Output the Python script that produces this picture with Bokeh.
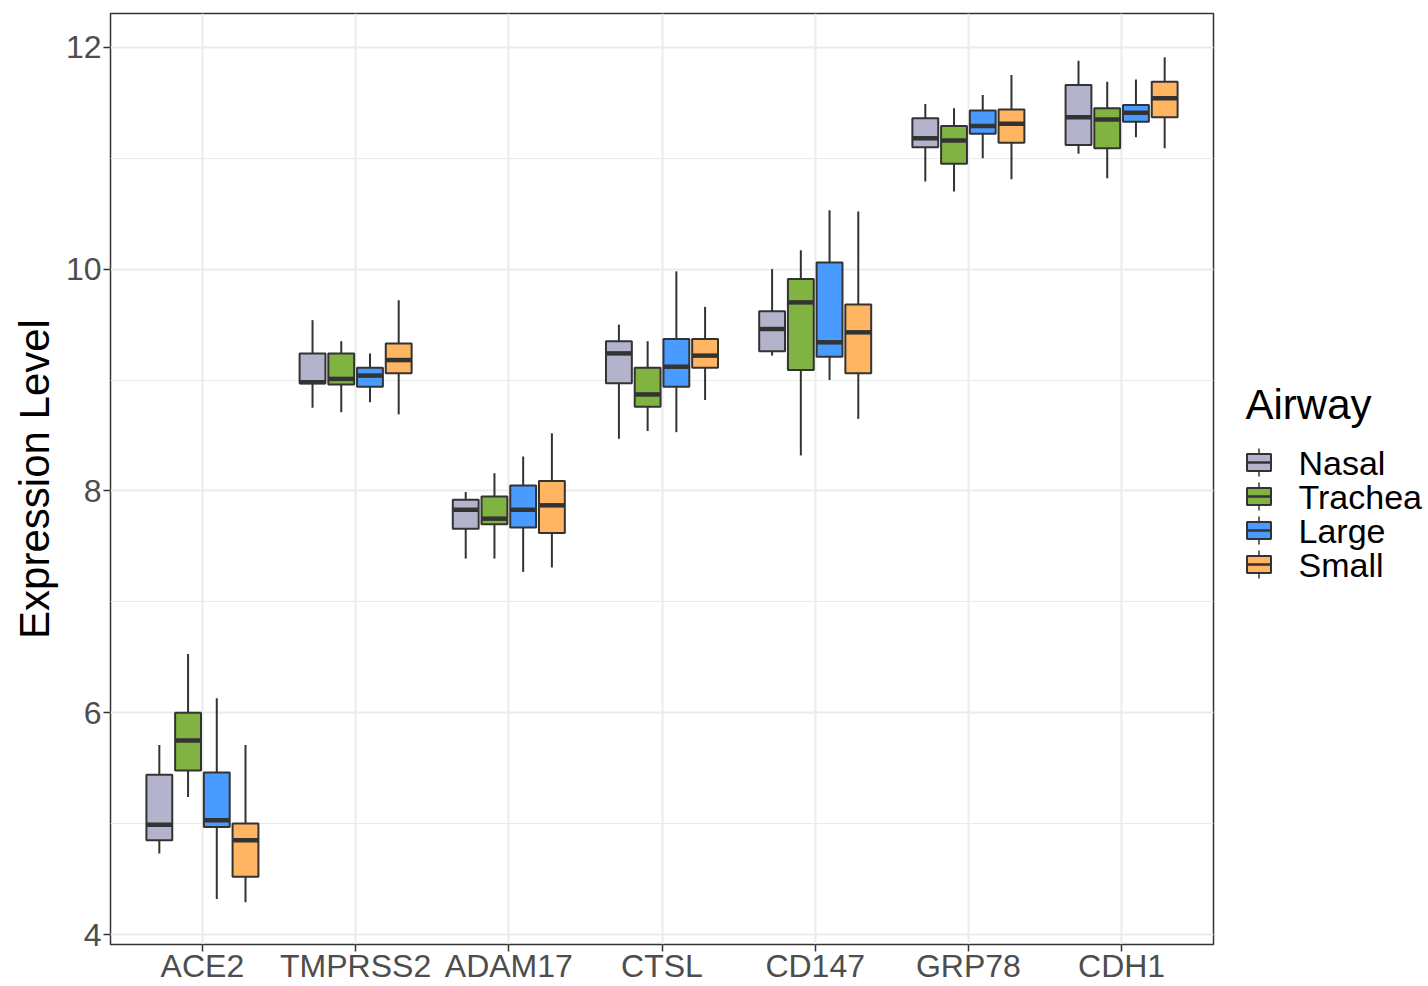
from bokeh.plotting import figure
from bokeh.models import FactorRange, Range1d, SingleIntervalTicker, ColumnDataSource
from bokeh.transform import dodge
from bokeh.layouts import row
from bokeh.core.properties import value
from bokeh.embed import file_html
from bokeh.resources import INLINE

genes = ["ACE2", "TMPRSS2", "ADAM17", "CTSL", "CD147", "GRP78", "CDH1"]
groups = ["Nasal", "Trachea", "Large", "Small"]
colors = ["#B3B3CC", "#80B341", "#4A9BFF", "#FFB562"]

nasal_upper = [5.71, 9.54, 7.99, 9.50, 10.00, 11.49, 11.88]
nasal_q3 = [5.44, 9.24, 7.92, 9.35, 9.62, 11.36, 11.66]
nasal_med = [4.99, 8.98, 7.83, 9.24, 9.46, 11.18, 11.37]
nasal_q1 = [4.85, 8.97, 7.66, 8.97, 9.26, 11.10, 11.12]
nasal_lower = [4.73, 8.75, 7.39, 8.47, 9.22, 10.79, 11.04]

trachea_upper = [6.53, 9.35, 8.16, 9.35, 10.17, 11.45, 11.69]
trachea_q3 = [6.00, 9.24, 7.95, 9.11, 9.91, 11.29, 11.45]
trachea_med = [5.75, 9.01, 7.75, 8.87, 9.70, 11.16, 11.35]
trachea_q1 = [5.48, 8.96, 7.70, 8.76, 9.09, 10.95, 11.09]
trachea_lower = [5.24, 8.71, 7.39, 8.54, 8.32, 10.70, 10.82]

large_upper = [6.13, 9.24, 8.31, 9.98, 10.53, 11.57, 11.71]
large_q3 = [5.46, 9.11, 8.05, 9.37, 10.06, 11.43, 11.48]
large_med = [5.03, 9.04, 7.83, 9.12, 9.34, 11.29, 11.41]
large_q1 = [4.97, 8.94, 7.67, 8.94, 9.21, 11.22, 11.33]
large_lower = [4.32, 8.80, 7.27, 8.53, 9.00, 11.00, 11.19]

small_upper = [5.71, 9.72, 8.52, 9.66, 10.52, 11.75, 11.91]
small_q3 = [5.00, 9.33, 8.09, 9.37, 9.68, 11.44, 11.69]
small_med = [4.85, 9.18, 7.87, 9.22, 9.43, 11.31, 11.54]
small_q1 = [4.52, 9.06, 7.62, 9.11, 9.06, 11.14, 11.37]
small_lower = [4.29, 8.69, 7.31, 8.82, 8.65, 10.81, 11.09]

stats = {
    "Nasal": (nasal_lower, nasal_q1, nasal_med, nasal_q3, nasal_upper),
    "Trachea": (trachea_lower, trachea_q1, trachea_med, trachea_q3, trachea_upper),
    "Large": (large_lower, large_q1, large_med, large_q3, large_upper),
    "Small": (small_lower, small_q1, small_med, small_q3, small_upper),
}

FONT = "Liberation Sans"
EDGE = "#333333"
dodge_w = 0.75 / 4
box_w = dodge_w * 0.9
H = 986
TOP = 13

p = figure(
    x_range=FactorRange(*genes, range_padding=0.1, range_padding_units="absolute"),
    y_range=Range1d(3.91, 12.305),
    width=1218, height=H,
    output_backend="svg", toolbar_location=None,
    min_border_left=110, min_border_right=5, min_border_top=TOP, min_border_bottom=0,
    background_fill_color="white", border_fill_color="white",
)

for i, g in enumerate(groups):
    lo, q1, md, q3, up = stats[g]
    src = ColumnDataSource(dict(gene=genes, lower=lo, q1=q1, med=md, q3=q3, upper=up))
    off = (i - 1.5) * dodge_w
    xc = dodge("gene", off, range=p.x_range)
    p.segment(x0=xc, y0="q3", x1=xc, y1="upper", source=src, line_color=EDGE, line_width=2)
    p.segment(x0=xc, y0="q1", x1=xc, y1="lower", source=src, line_color=EDGE, line_width=2)
    p.vbar(x=xc, width=box_w, top="q3", bottom="q1", source=src,
           fill_color=colors[i], line_color=EDGE, line_width=2)
    p.segment(x0=dodge("gene", off - box_w / 2, range=p.x_range), y0="med",
              x1=dodge("gene", off + box_w / 2, range=p.x_range), y1="med",
              source=src, line_color=EDGE, line_width=4.5)

ticker = SingleIntervalTicker(interval=2, num_minor_ticks=2)
p.yaxis.ticker = ticker
p.ygrid.ticker = ticker
p.ygrid.grid_line_color = "#EBEBEB"
p.ygrid.grid_line_width = 2
p.ygrid.minor_grid_line_color = "#EBEBEB"
p.ygrid.minor_grid_line_width = 1
p.xgrid.grid_line_color = "#EBEBEB"
p.xgrid.grid_line_width = 2

p.outline_line_color = EDGE
p.outline_line_width = 1.5

for ax in (p.xaxis, p.yaxis):
    ax.axis_line_color = None
    ax.major_tick_line_color = EDGE
    ax.major_tick_line_width = 1.5
    ax.major_tick_out = 7
    ax.major_tick_in = 0
    ax.minor_tick_line_color = None
    ax.major_label_text_font = FONT
    ax.major_label_text_font_size = "32px"
    ax.major_label_text_color = "#4D4D4D"
    ax.major_label_standoff = 2

p.xaxis.major_label_standoff = -4

p.yaxis.axis_label = "Expression Level"
p.yaxis.axis_label_text_font = FONT
p.yaxis.axis_label_text_font_size = "42px"
p.yaxis.axis_label_text_font_style = "normal"
p.yaxis.axis_label_text_color = "black"
p.yaxis.axis_label_standoff = 5

# Legend panel: its frame is aligned with the main frame by the row layout,
# so its y range is expressed in the page's pixel rows of that frame.
LW = 1428 - 1218
FRAME_BOTTOM = 944
lp = figure(width=LW, height=H, x_range=Range1d(1218, 1428), y_range=Range1d(FRAME_BOTTOM, TOP),
            x_axis_location=None, y_axis_location=None,
            output_backend="svg", toolbar_location=None,
            min_border=0, min_border_left=0, min_border_right=0,
            min_border_top=TOP, min_border_bottom=0)
lp.grid.visible = False
lp.outline_line_color = None
lp.background_fill_color = "white"
lp.border_fill_color = "white"

title_x, title_y = 1245, 404
key_x, key_w, key_h, whisk = 1258.5, 24, 17, 14
row_y = [462, 496, 530, 564]
label_x = 1298

lp.text(x=[title_x], y=[title_y], text=["Airway"], text_font=value(FONT),
        text_font_size="42px", text_baseline="middle", text_align="left", text_color="black")
ksrc = ColumnDataSource(dict(
    x=[key_x] * 4, y=row_y, y0=[y - whisk for y in row_y], y1=[y + whisk for y in row_y],
    xl=[key_x - key_w / 2] * 4, xr=[key_x + key_w / 2] * 4,
    lx=[label_x] * 4, color=colors, label=groups))
lp.segment(x0="x", y0="y0", x1="x", y1="y1", source=ksrc, line_color=EDGE, line_width=1.5)
lp.rect(x="x", y="y", width=key_w, height=key_h, source=ksrc, fill_color="color",
        line_color=EDGE, line_width=2)
lp.segment(x0="xl", y0="y", x1="xr", y1="y", source=ksrc, line_color=EDGE, line_width=2.5)
lp.text(x="lx", y="y", text="label", source=ksrc, text_font=value(FONT),
        text_font_size="34px", text_baseline="middle", text_align="left", text_color="black")

layout = row(p, lp)
open("out.html", "w").write(file_html(layout, INLINE))
